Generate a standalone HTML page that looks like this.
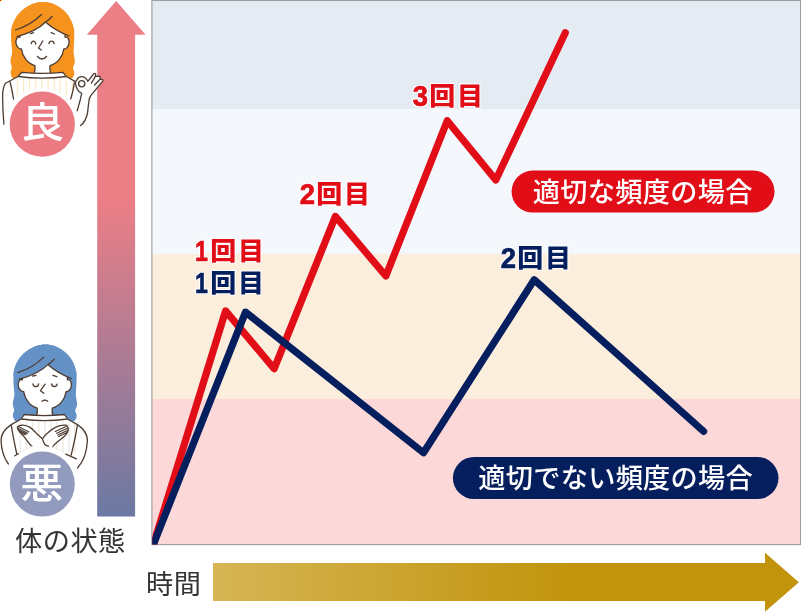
<!DOCTYPE html>
<html lang="ja">
<head>
<meta charset="utf-8">
<title>体の状態と時間</title>
<style>
  html, body { margin: 0; padding: 0; background: #ffffff; }
  body { width: 801px; height: 612px; overflow: hidden; }
  svg { display: block; will-change: transform; }
  text { font-family: "Liberation Sans", "Noto Sans CJK JP", sans-serif; }
  .lbl { filter: url(#halo); }
  .dg { font-weight: 700; font-size: 28.9px; stroke-width: 0.7px; stroke-linejoin: round; }
  .cj { font-weight: 900; font-size: 26px; letter-spacing: 1.7px; }
  .pill { font-weight: 500; font-size: 27.2px; letter-spacing: 0.3px; fill: #ffffff; }
  .axis { font-weight: 400; font-size: 27.2px; letter-spacing: 0.5px; fill: #333333; }
  .badge { font-weight: 500; font-size: 41px; fill: #ffffff; text-anchor: middle; }
</style>
</head>
<body>
<svg width="801" height="612" viewBox="0 0 801 612">
  <defs>
    <linearGradient id="gv" x1="0" y1="0" x2="0" y2="1">
      <stop offset="0" stop-color="#ec7e86"/>
      <stop offset="0.386" stop-color="#ec7e86"/>
      <stop offset="1" stop-color="#6b79a3"/>
    </linearGradient>
    <linearGradient id="gh" x1="0" y1="0" x2="1" y2="0">
      <stop offset="0" stop-color="#d6b554"/>
      <stop offset="0.61" stop-color="#c1940c"/>
      <stop offset="1" stop-color="#c1940c"/>
    </linearGradient>
    <g id="head" stroke-linecap="round" stroke-linejoin="round">
      <!-- back hair -->
      <path fill="currentColor" stroke="none" d="M43.2,2 C30,2 14,12 11.2,31 C10.8,38 11.4,44 12,50 C12.5,55 10.4,58 10.5,61.8 C10.6,64.5 12,65.8 11.8,67.6 C11.6,69.6 10.4,71 10.6,73.2 C10.8,75.4 11.8,77 12.9,78.6 L72,78.6 C73.1,77 74.3,75.4 74.4,73 C74.4,71 72.9,69.6 73,67.6 C73.2,65.6 74.8,64.4 74.8,61.8 C74.8,58 73.3,55 73.6,50 C74,44 74.5,38 74.2,31 C71.5,12 56,2 43.2,2 Z"/>
      <!-- face and neck -->
      <path fill="#ffffff" stroke="#4d3c32" stroke-width="1.3" d="M20,37.2 C17.2,36.4 15.4,39.6 16,43.4 C16.6,47 19.4,49.2 21.4,49 C22.4,56.5 27.6,63.6 34.9,65.6 C35.3,67.6 35,70.4 34.3,73.6 L50.6,73.6 C49.9,70.4 49.6,67.6 50,65.6 C57.6,63.6 62.8,56.5 63.8,49 C65.8,49.2 68.6,47 69,43.4 C69.6,39.6 67.8,36.4 65,37.2 L66,24 L44,14 L20,24 Z"/>
      <!-- fringe -->
      <path fill="currentColor" stroke="none" d="M45.5,22 Q37,31 17,36.6 L12.4,38.5 L11.2,31 C14,12 30,2 43.2,2 C56,2 71.5,12 74.2,31 L73,38.5 L69,36 Q55,30.5 45.5,22 Z"/>
      <path fill="none" stroke="#4d3c32" stroke-width="1.3" d="M17,36.6 Q37,31 45.5,22 Q55,30.5 69,36 M45.5,22 Q49.5,19.6 52,16.5 M15.5,30 Q31,25 41.5,14.5"/>
    </g>
    <filter id="halo" x="-10%" y="-25%" width="120%" height="150%" color-interpolation-filters="sRGB">
      <feMorphology in="SourceAlpha" operator="dilate" radius="1" result="d"/>
      <feGaussianBlur in="d" stdDeviation="0.35" result="b"/>
      <feFlood flood-color="#ffffff" result="w"/>
      <feComposite in="w" in2="b" operator="in" result="h"/>
      <feMerge><feMergeNode in="h"/><feMergeNode in="SourceGraphic"/></feMerge>
    </filter>
    <clipPath id="chartclip"><rect x="152.3" y="1" width="648.2" height="543.4"/></clipPath>
  </defs>

  <rect x="0" y="0" width="1" height="1" fill="#ff0000"/><rect x="1" y="0" width="1" height="1" fill="#ffff00"/>

  <!-- chart bands -->
  <g id="chart">
    <rect x="152" y="0" width="649" height="109" fill="#e4ebf3"/>
    <rect x="152" y="109" width="649" height="145" fill="#f4f8fc"/>
    <rect x="152" y="254" width="649" height="145" fill="#fceedd"/>
    <rect x="152" y="399" width="649" height="145.5" fill="#fdd8d9"/>
    <rect x="151.9" y="0.4" width="648.7" height="544.2" fill="none" stroke="#9b9b9b" stroke-width="1.1"/>
  </g>

  <!-- lines -->
  <g clip-path="url(#chartclip)" fill="none" stroke-width="7.2" stroke-linejoin="round" stroke-linecap="round">
    <polyline stroke="#e10d17" points="151.73,549.73 225.6,310.85 274.2,368.7 335.4,216.4 385.85,276 447.25,120.7 495.8,180 565.3,32.7"/>
    <polyline stroke="#051e5e" points="151.34,549.58 245.5,312.1 423.5,452.8 534.2,279.8 703.6,431.4"/>
  </g>

  <!-- count labels -->
  <g class="lbl" fill="#e10d17" stroke="#e10d17" transform="translate(195.8,260.8)"><text class="dg" transform="scale(0.8,1)" x="-1" y="0">1</text><text class="cj" stroke="none" transform="scale(1,0.95)" x="14.5" y="-0.9">回目</text></g>
  <g class="lbl" fill="#051e5e" stroke="#051e5e" transform="translate(195.8,292.7)"><text class="dg" transform="scale(0.8,1)" x="-1" y="0">1</text><text class="cj" stroke="none" transform="scale(1,0.95)" x="14.5" y="-0.9">回目</text></g>
  <g class="lbl" fill="#e10d17" stroke="#e10d17" transform="translate(300.5,204.2)"><text class="dg" transform="scale(0.95,1)" x="-0.8" y="0">2</text><text class="cj" stroke="none" transform="scale(1,0.95)" x="15.8" y="-0.9">回目</text></g>
  <g class="lbl" fill="#e10d17" stroke="#e10d17" transform="translate(413.5,106.3)"><text class="dg" transform="scale(0.95,1)" x="-0.8" y="0">3</text><text class="cj" stroke="none" transform="scale(1,0.95)" x="15.8" y="-0.9">回目</text></g>
  <g class="lbl" fill="#051e5e" stroke="#051e5e" transform="translate(501.5,268.2)"><text class="dg" transform="scale(0.95,1)" x="-0.8" y="0">2</text><text class="cj" stroke="none" transform="scale(1,0.95)" x="15.8" y="-0.9">回目</text></g>

  <!-- pills -->
  <rect x="511.6" y="170.6" width="262.9" height="42" rx="21" fill="#e10d17"/>
  <text class="pill" x="532.8" y="201.8">適切な頻度の場合</text>
  <rect x="452.9" y="457" width="325.6" height="42" rx="21" fill="#051e5e"/>
  <text class="pill" x="478.2" y="487.8">適切でない頻度の場合</text>


  <!-- ===== good: smiling woman with OK sign ===== -->
  <g id="good" stroke-linecap="round" stroke-linejoin="round">
    <use href="#head" color="#f6921e"/>
    <!-- face features -->
    <path fill="none" stroke="#4d3c32" stroke-width="1.3" d="M31.2,43.7 C31.8,40.2 35.2,40.2 35.8,44 M49,43.7 C49.6,40.2 53.6,40.2 54.2,43.6 M30.5,33.6 L33.5,32.6 M51.2,32.6 L54.5,34 M42.8,41 L38.5,48 L41.2,50 M37.5,56.5 Q42,61.5 46.5,56.5"/>
    <!-- shirt -->
    <path fill="#ffffff" stroke="none" d="M21.9,72.3 L18,76.5 L5.6,83.2 C3.2,86.5 2.6,91 2.5,96 L3.8,124 L78,124 L75.3,81 L66.3,76.5 L62.9,72.3 Q42.4,74.4 21.9,72.3 Z"/>
    <path fill="none" stroke="#fbe2b3" stroke-width="0.9" d="M11.2,84 V93 M17.4,79.5 V96 M23.6,79 V92 M29.4,79 V90.5 M35.7,79 V89.5 M41.8,79 V89 M48.1,79 V89.5 M54.2,79 V90.5 M60.1,79 V92 M66.3,79.5 V94.5 M72.5,83 V96"/>
    <path fill="none" stroke="#4d3c32" stroke-width="1.3" d="M21.9,72.3 Q42.4,74.4 62.9,72.3 L66.3,76.5 Q42.2,79.6 18,76.5 Z M18,76.5 L5.6,83.2 C3.2,86.5 2.7,91 2.6,96 C2.6,106 3.2,116 3.9,124.2 M10.1,82.1 C11.6,88 12.8,93.5 13.5,99 M66.3,76.5 L75.4,81.6 M74.4,82.7 C73.6,88.5 72.4,94 70.7,99"/>
  </g>

  <!-- ===== bad: woman with crossed arms ===== -->
  <g id="bad" stroke-linecap="round" stroke-linejoin="round">
    <use href="#head" transform="translate(2.3,342.6)" color="#6592c6"/>
    <!-- face features -->
    <path fill="none" stroke="#4d3c32" stroke-width="1.3" d="M32.9,383.8 C33.5,387.6 38,387.6 38.6,383.8 M51.6,383.8 C52.2,387.4 56.5,387.4 57.1,384.2 M32.7,376 L36,375.3 M52.9,375.3 L56.9,376.6 M45.1,384.2 L40.5,390.7 L43.8,393.3 M42.1,401.3 Q44.8,399 47.7,401.3"/>
    <!-- shirt -->
    <path fill="#ffffff" stroke="none" d="M24.2,414.5 L21.3,419 L11.2,424.6 C4,429.5 0.8,436 1.1,441 C1.4,450 4,458 8.4,464 L77.5,468 C83,462 86.8,452 87.4,441 C87.6,436 84.5,429.5 77.5,424.6 L67.4,419 L64.6,414.5 Q44.4,416.8 24.2,414.5 Z"/>
    <path fill="none" stroke="#e7dfd2" stroke-width="0.9" d="M20.2,422 V452 M26.4,422 V452 M32.6,422 V452 M38.8,422 V452 M44.9,422 V452 M51.1,422 V452 M56.7,422 V452 M62.9,422 V452 M69.1,422 V452 M74.7,424 V452"/>
    <path fill="none" stroke="#4d3c32" stroke-width="1.3" d="M24.2,414.5 Q44.4,416.8 64.6,414.5 L67.4,419 Q44.4,422.4 21.3,419 Z M21.3,419 L11.2,424.6 C4,429.5 0.8,436 1.1,441 C1.4,450 4,458 8.4,464 M67.4,419 L77.5,424.6 C84.5,429.5 87.6,436 87.4,441 C86.8,452 83,462 77.5,468 M11.2,424.6 C12.6,434 14.8,445 17,455 M77.5,424.6 C76,434 73.6,445 71.2,455"/>
    <!-- arm behind (hand upper right) -->
    <path fill="#ffffff" stroke="none" d="M67.7,427 C67.4,426 66.8,425.3 65.9,425.2 C62,425 58,426 55.5,427.4 L48.5,432.2 L42.3,438.8 L31.9,446.2 L14.8,455.8 L20,463 L46,463 L52.8,446.7 L57.2,441.9 L64.2,436.6 L68.1,430.5 C68.4,429 68.2,428 67.7,427 Z"/>
    <path fill="none" stroke="#4d3c32" stroke-width="1.3" d="M42.3,438.8 C44,436.4 46,434.2 48.5,432.2 C50.6,430.4 53,428.6 55.5,427.4 C58,426 62,425 65.9,425.2 C66.8,425.3 67.4,426 67.7,427 C68.2,428 68.4,429 68.1,430.5 C67.4,432.8 66,434.8 64.2,436.6 C62,438.6 59.4,440 57.2,441.9 C55.4,443.4 54,445 52.8,446.7"/>
    <path fill="none" stroke="#4d3c32" stroke-width="1.1" d="M66.2,426.5 L55.2,431.5 M67.5,428.3 L56.6,433.3 M67.9,430.2 L57.6,435 M66.8,432.4 L58.6,436.6"/>
    <!-- arm in front (hand upper left) -->
    <path fill="#ffffff" stroke="none" d="M17.4,427 C19,425.4 21,425 23.1,425.2 C26,425.6 28.5,426.4 30.1,427.4 L36.2,433.1 L42.3,438.8 C43.5,441.5 44,443.5 45,444.5 C46,445.6 47.2,446 48.5,446.2 L65.9,454.1 L76.4,458.9 L72,463 L44,463 L31.9,446.2 L29.2,443.6 L24,436.6 L18.7,430.5 C17.6,429 17,428 17.4,427 Z"/>
    <path fill="none" stroke="#4d3c32" stroke-width="1.3" d="M31.9,446.2 C30.8,445.4 30,444.6 29.2,443.6 C27.4,441.4 25.8,439 24,436.6 C22.2,434.4 20.2,432.6 18.7,430.5 C17.6,429 17,428 17.4,427 C19,425.4 21,425 23.1,425.2 C26,425.6 28.5,426.4 30.1,427.4 C32.4,429 34.2,431.2 36.2,433.1 C38.2,435 40.4,436.8 42.3,438.8 C43.5,441.5 44,443.5 45,444.5 C46,445.6 47.2,446 48.5,446.2"/>
    <path fill="none" stroke="#4d3c32" stroke-width="1.1" d="M18.4,426.4 L29,431.9 M17.9,428.2 L27.6,433.2 M18.4,430.1 L26.3,434.1 M19.6,432 L25.2,434.8"/>
    <!-- cuffs -->
    <path fill="none" stroke="#efe9e0" stroke-width="0.8" d="M31.9,446.2 L18.3,453.7 M52.8,446.7 L65.9,454.1"/>
    <path fill="none" stroke="#4d3c32" stroke-width="1.3" d="M14.8,455.8 L18.3,453.7 M65.9,454.1 L76.4,458.9"/>
  </g>

  <!-- vertical arrow -->
  <path d="M116.2,1 L145.6,34.8 L135.1,34.8 L135.1,516.5 L97.2,516.5 L97.2,34.8 L86.8,34.8 Z" fill="url(#gv)"/>

  <!-- OK-sign hand (over the arrow) -->
  <g stroke-linecap="round" stroke-linejoin="round">
    <path fill="#ffffff" stroke="none" d="M77.2,110.8 L80.2,100 L81.7,93.4 C78.5,92 76,88 75.4,82.7 C75.8,81 76.2,80.5 76.75,80 C78,77.5 80.2,76.5 82,76.6 C84.5,76.8 86.8,79 87.8,81.3 L93.6,74 C94.2,73.2 95.2,73.3 95.6,74 C95.9,74.8 95.7,75.6 95.4,76.4 L98.3,76.3 C99.2,75.9 100,76.4 100.1,77.3 C100.2,78 100.2,78.6 100.1,79.3 L101.6,79.3 C102.6,79.2 103.2,80.1 102.7,81.1 L90.6,95.8 C89.6,97.5 89.3,98.6 89.1,100 C88.4,103.9 88.2,108 87.5,113 C86.5,118 84,123 80.6,125.6 Z"/>
    <path fill="none" stroke="#4d3c32" stroke-width="1.3" d="M77.2,110.8 L80.2,100 L81.7,93.4 C78.5,92 76,88 75.4,82.7 C75.8,81 76.2,80.5 76.75,80 C78,77.5 80.2,76.5 82,76.6 C84.5,76.8 86.8,79 87.8,81.3 L93.6,74 C94.2,73.2 95.2,73.3 95.6,74 C95.9,74.8 95.7,75.6 95.4,76.4 L91.4,83.2 M95.4,76.4 L98.3,76.3 C99.2,75.9 100,76.4 100.1,77.3 C100.2,78 100.2,78.6 100.1,79.3 L94.6,85 M100.1,79.3 L101.6,79.3 C102.6,79.2 103.2,80.1 102.7,81.1 L90.6,95.8 C89.6,97.5 89.3,98.6 89.1,100 C88.4,103.9 88.2,108 87.5,113 C86.5,118 84,123 80.6,125.6"/>
    <circle cx="81.7" cy="83.7" r="3.1" fill="#ffffff" stroke="#4d3c32" stroke-width="1.3"/>
  </g>

  <!-- horizontal arrow -->
  <path d="M213,563 L765,563 L765,552.7 L798.9,582.2 L765,611.7 L765,601 L213,601 Z" fill="url(#gh)"/>

  <!-- axis labels -->
  <text class="axis" x="15" y="550.9">体の状態</text>
  <text class="axis" x="146" y="594.2">時間</text>

  <!-- badges -->
  <circle cx="42.3" cy="124.2" r="32.6" fill="#ec7a83"/>
  <text class="badge" transform="translate(42.4,137.2) scale(1.06,1)" x="0" y="0">良</text>
  <circle cx="42.3" cy="484.1" r="32.5" fill="#929bbd"/>
  <text class="badge" transform="translate(41.7,497.9) scale(1.05,1)" x="0" y="0">悪</text>
</svg>
</body>
</html>
